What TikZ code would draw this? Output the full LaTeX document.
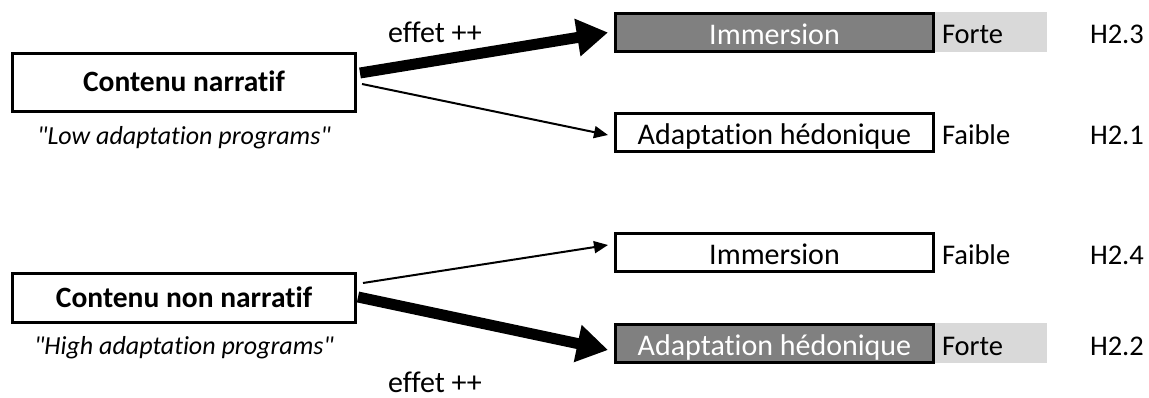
\documentclass[tikz,border=0pt]{standalone}
\usepackage{fontspec}
\setmainfont{Carlito}[Ligatures={TeXOff,NoCommon}]
\usetikzlibrary{arrows.meta,calc}
\definecolor{darkfill}{HTML}{808080}
\definecolor{lightfill}{HTML}{D9D9D9}
\begin{document}
\begin{tikzpicture}[x=1pt,y=-1pt,
  every node/.style={font=\fontsize{28.5}{33}\selectfont, inner sep=0pt, outer sep=0pt},
  srcbox/.style={draw, line width=3pt, minimum width=343pt, text height=19pt, text depth=0pt,
    font=\fontsize{29.5}{34}\selectfont\bfseries},
  tgtbox/.style={draw, line width=3pt, minimum width=318pt, minimum height=38pt,
    text height=24pt, text depth=0pt, font=\fontsize{30}{35}\selectfont},
  darkbox/.style={tgtbox, fill=darkfill, text=white},
  lightbar/.style={fill=lightfill, minimum width=117pt, minimum height=40pt},
  lvl/.style={anchor=base west},
  sub/.style={anchor=base, font=\fontsize{26}{31}\selectfont\itshape},
  efflabel/.style={anchor=base, font=\fontsize{30}{35}\selectfont},
  strong/.style={line width=11pt, -{Triangle[length=31pt,width=36pt]}},
  weak/.style={line width=2pt, -{Triangle[length=14pt,width=12pt]}}
]
\useasboundingbox (0,0) rectangle (1149,398);

% source boxes
\node[srcbox, minimum height=58pt] (A) at (184,82.5) {Contenu narratif};
\node[sub] (Asub) at (184,145) {"Low adaptation programs"};
\node[srcbox, minimum height=49pt] (B) at (184,298) {Contenu non narratif};
\node[sub] (Bsub) at (184,354) {"High adaptation programs"};

% light bars behind strong targets
\node[lightbar] (G1) at (988.5,32) {};
\node[lightbar] (G2) at (988.5,343) {};

% target boxes
\node[darkbox] (I1) at (774.5,32.5) {Immersion};
\node[tgtbox] (H1) at (774.5,132.5) {Adaptation hédonique};
\node[tgtbox] (I2) at (774.5,252.5) {Immersion};
\node[darkbox] (H2) at (774.5,343.5) {Adaptation hédonique};

% levels
\node[lvl] (L1) at (942,44) {Forte};
\node[lvl] (L2) at (942,144.5) {Faible};
\node[lvl] (L3) at (942,264.5) {Faible};
\node[lvl] (L4) at (942,355.5) {Forte};

% hypotheses
\node[lvl] (P1) at (1090,44) {H2.3};
\node[lvl] (P2) at (1090,144.5) {H2.1};
\node[lvl] (P3) at (1090,264.5) {H2.4};
\node[lvl] (P4) at (1090,355.5) {H2.2};

% effect labels
\node[efflabel] (E1) at (435,43) {effet ++};
\node[efflabel] (E2) at (435,392) {effet ++};

% connectors
\draw[strong] ($(A.east)+(4.5,-9.5)$) -- ($(I1.west)+(-7.5,0)$);
\draw[weak] ($(A.east)+(6.5,1.5)$) -- ($(H1.west)+(-7.5,2.5)$);
\draw[weak] ($(B.east)+(7.5,-15)$) -- ($(I2.west)+(-7.5,-7.5)$);
\draw[strong] ($(B.east)+(2.5,-1)$) -- ($(H2.west)+(-7.5,6.5)$);
\end{tikzpicture}
\end{document}
